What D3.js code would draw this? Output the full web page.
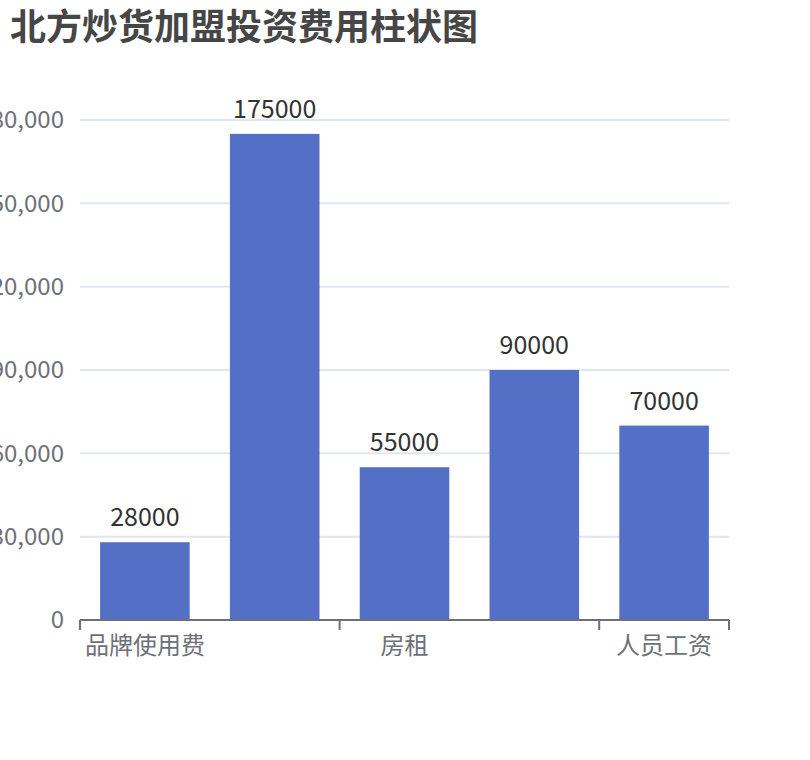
<!DOCTYPE html>
<html>
<head>
<meta charset="utf-8">
<script src="https://cdn.jsdelivr.net/npm/d3@7"></script>
<style>
    html, body { margin: 0; padding: 0; background: #fff; }
    svg { display: block; font-family: "Noto Sans CJK SC", "Noto Sans", sans-serif; }
</style>
</head>
<body>
<svg id="chart" width="810" height="760"></svg>
<script>
// chart data
const titleText = '北方炒货加盟投资费用柱状图';
const categories = ['品牌使用费', '装修费用', '房租', '设备采购', '人员工资'];
const values = [28000, 175000, 55000, 90000, 70000];
const yTicks = [0, 30000, 60000, 90000, 120000, 150000, 180000];

const width = 810;
const margin = {top: 120, right: 81, bottom: 140, left: 80};
const plotBottom = 620;

const svg = d3.select('#chart');

svg.append('text')
    .attr('x', 10)
    .attr('y', 40)
    .attr('fill', '#464646')
    .style('font-size', '36px')
    .style('font-weight', 'bold')
    .text(titleText);

const x = d3.scaleBand()
    .domain(categories)
    .range([margin.left, width - margin.right]);

const y = d3.scaleLinear()
    .domain([0, d3.max(yTicks)])
    .range([plotBottom, margin.top]);

// horizontal grid lines
svg.append('g')
    .selectAll('line')
    .data(yTicks.filter(d => d > 0))
    .join('line')
    .attr('x1', margin.left)
    .attr('x2', width - margin.right)
    .attr('y1', d => y(d))
    .attr('y2', d => y(d))
    .attr('stroke', '#E0E6F1')
    .attr('stroke-width', 2);

// y axis labels (no line, no ticks)
const yAxis = d3.axisLeft(y)
    .tickValues(yTicks)
    .tickSize(0)
    .tickPadding(16)
    .tickFormat(d3.format(','));

svg.append('g')
    .attr('transform', 'translate(' + margin.left + ',0)')
    .call(yAxis)
    .call(g => g.select('.domain').remove())
    .call(g => g.selectAll('text')
        .attr('fill', '#6E7079')
        .style('font-size', '24px')
        .style('font-family', '"Noto Sans CJK SC", "Noto Sans", sans-serif'));

// bars
const barRatio = 0.69;
const bw = x.bandwidth();

svg.append('g')
    .selectAll('rect')
    .data(values)
    .join('rect')
    .attr('x', (d, i) => x(categories[i]) + bw * (1 - barRatio) / 2)
    .attr('width', bw * barRatio)
    .attr('y', d => y(d))
    .attr('height', d => plotBottom - y(d))
    .attr('fill', '#5470C6');

// value labels above bars
svg.append('g')
    .selectAll('text')
    .data(values)
    .join('text')
    .attr('x', (d, i) => x(categories[i]) + bw / 2)
    .attr('y', d => y(d) - 16)
    .attr('text-anchor', 'middle')
    .attr('fill', '#333')
    .style('font-size', '25px')
    .text(d => d);

// x axis: line, ticks on every other band edge, labels on every other band
const xg = svg.append('g');

xg.append('line')
    .attr('x1', margin.left)
    .attr('x2', width - margin.right)
    .attr('y1', plotBottom)
    .attr('y2', plotBottom)
    .attr('stroke', '#6E7079')
    .attr('stroke-width', 2);

const tickPos = categories
    .filter((c, i) => i % 2 === 0)
    .map(c => x(c))
    .concat([x.range()[1]]);

xg.selectAll('line.tick')
    .data(tickPos)
    .join('line')
    .attr('class', 'tick')
    .attr('x1', d => d)
    .attr('x2', d => d)
    .attr('y1', plotBottom)
    .attr('y2', plotBottom + 10)
    .attr('stroke', '#6E7079')
    .attr('stroke-width', 2);

xg.selectAll('text')
    .data(categories.filter((c, i) => i % 2 === 0))
    .join('text')
    .attr('x', d => x(d) + bw / 2)
    .attr('y', 654)
    .attr('text-anchor', 'middle')
    .attr('fill', '#6E7079')
    .style('font-size', '24px')
    .text(d => d);
</script>
</body>
</html>
